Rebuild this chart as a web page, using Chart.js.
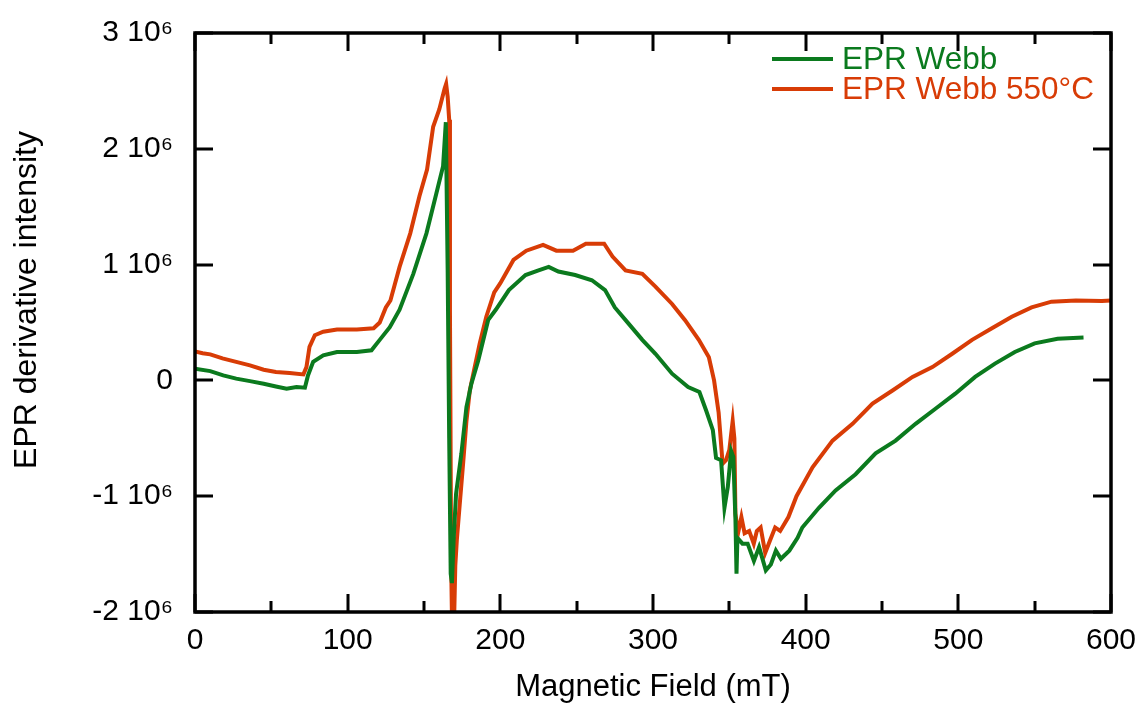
<!DOCTYPE html>
<html>
<head>
<meta charset="utf-8">
<script src="https://cdn.jsdelivr.net/npm/chart.js@4.4.1/dist/chart.umd.min.js"></script>
<style>
  html, body { margin: 0; padding: 0; background: #ffffff; }
  #wrap { width: 1142px; height: 706px; }
</style>
</head>
<body>
<div id="wrap"><canvas id="c" width="1142" height="706"></canvas></div>
<script>
// ---- Data (intensity in units of 10^6) ----
const seriesNames = ["EPR Webb", "EPR Webb 550°C"];
const xTitle = "Magnetic Field (mT)";
const yTitle = "EPR derivative intensity";

const webbField = [0, 10, 18.5, 27, 36, 45, 53, 60, 66.5, 72, 74, 77.4, 84, 93, 106, 115.6, 121, 127.6, 134, 143, 151.6, 158, 162.5, 164.3, 165.5, 166.5, 167.5, 168.3, 169.5, 171, 174.5, 177.8, 181, 185.5, 192, 197, 205.6, 216.5, 225, 231.7, 238, 249, 260, 268.6, 275, 284, 293, 301.6, 312.5, 323, 330.4, 334.8, 339.2, 341.3, 344.6, 346.8, 349, 351.2, 352.6, 354, 354.7, 355.3, 358.6, 362, 366.1, 369.5, 373.9, 377.2, 380.5, 383.8, 389.3, 394.7, 397.8, 408.7, 419.6, 432.7, 445.8, 458.9, 472, 485, 498, 511, 524, 537, 550, 565, 582];
const webbValues = [0.10, 0.08, 0.043, 0.015, -0.006, -0.029, -0.052, -0.072, -0.058, -0.063, 0.043, 0.16, 0.216, 0.245, 0.245, 0.26, 0.35, 0.46, 0.61, 0.92, 1.27, 1.61, 1.85, 2.23, 0.95, -0.5, -1.67, -1.75, -1.35, -0.98, -0.63, -0.23, -0.03, 0.17, 0.52, 0.61, 0.78, 0.91, 0.95, 0.98, 0.94, 0.91, 0.865, 0.78, 0.63, 0.49, 0.35, 0.23, 0.058, -0.058, -0.10, -0.26, -0.43, -0.67, -0.69, -1.10, -0.92, -0.61, -0.66, -1.2, -1.67, -1.36, -1.41, -1.41, -1.56, -1.44, -1.64, -1.59, -1.47, -1.54, -1.47, -1.36, -1.27, -1.10, -0.95, -0.81, -0.63, -0.52, -0.375, -0.245, -0.115, 0.03, 0.145, 0.245, 0.32, 0.36, 0.37];

const webb550Field = [0, 5, 10, 18, 27, 36, 45, 53, 62, 71, 73, 75, 78.5, 84, 93, 106, 117, 121, 125, 128, 134, 141, 147, 152, 156, 160, 163.5, 164.5, 165.5, 166.5, 167, 167.8, 168.5, 169.5, 170.5, 171.5, 173.4, 175.6, 177.8, 180, 183.2, 186.5, 190.8, 196, 200, 208.6, 217, 228, 236.7, 247.6, 256, 268, 273.5, 282, 293, 301.6, 312.5, 321, 330, 336.6, 340, 343, 345.6, 347.8, 350, 352.2, 353.3, 354, 355.7, 357.9, 360, 363, 366, 368, 370.5, 373.5, 376.7, 380, 383.3, 388.7, 394, 404.5, 417.6, 430.7, 443.8, 456.9, 470, 483, 496, 509, 522, 535, 548, 561, 577, 594, 600];
const webb550Values = [0.25, 0.235, 0.225, 0.19, 0.16, 0.13, 0.092, 0.072, 0.063, 0.052, 0.115, 0.29, 0.39, 0.42, 0.44, 0.44, 0.45, 0.50, 0.63, 0.69, 0.98, 1.27, 1.59, 1.82, 2.19, 2.34, 2.52, 2.56, 2.45, 2.25, 0.6, -1.6, -2.2, -2.2, -1.6, -1.38, -1.07, -0.72, -0.35, -0.087, 0.115, 0.32, 0.55, 0.76, 0.84, 1.04, 1.12, 1.17, 1.12, 1.12, 1.18, 1.18, 1.07, 0.95, 0.92, 0.81, 0.66, 0.52, 0.35, 0.20, 0.0, -0.28, -0.72, -0.69, -0.6, -0.35, -0.5, -1.15, -1.32, -1.18, -1.32, -1.30, -1.41, -1.3, -1.27, -1.49, -1.38, -1.27, -1.30, -1.18, -1.0, -0.75, -0.52, -0.375, -0.20, -0.087, 0.03, 0.115, 0.23, 0.35, 0.45, 0.55, 0.63, 0.68, 0.69, 0.686, 0.69];

const xTickValues = [0, 100, 200, 300, 400, 500, 600];
const yTickValues = [-2, -1, 0, 1, 2, 3];

const GREEN = '#0b7a1e';
const RED = '#d83c06';
const FONT = "'Liberation Sans', Helvetica, Arial, sans-serif";

function toPoints(xs, ys) { return xs.map((x, i) => ({ x: x, y: ys[i] })); }

// Frame, inward ticks, y title and legend
const framePlugin = {
  id: 'frame',
  afterDatasetsDraw(chart) {
    const { ctx, chartArea: a, scales } = chart;
    const xs = scales.x, ys = scales.y;
    ctx.save();
    ctx.strokeStyle = '#000';
    ctx.lineWidth = 3;
    ctx.lineCap = 'butt';
    ctx.beginPath();
    for (let v = 0; v <= 600; v += 50) {
      const px = Math.round(xs.getPixelForValue(v));
      const len = (v % 100 === 0) ? 18 : 11;
      ctx.moveTo(px, a.bottom); ctx.lineTo(px, a.bottom - len);
      ctx.moveTo(px, a.top); ctx.lineTo(px, a.top + len);
    }
    yTickValues.forEach(v => {
      const py = Math.round(ys.getPixelForValue(v));
      ctx.moveTo(a.left, py); ctx.lineTo(a.left + 18, py);
      ctx.moveTo(a.right, py); ctx.lineTo(a.right - 18, py);
    });
    ctx.stroke();
    ctx.lineWidth = 3.5;
    ctx.strokeRect(a.left, a.top, a.right - a.left, a.bottom - a.top);

    // y-axis title
    ctx.fillStyle = '#000';
    ctx.font = '32px ' + FONT;
    ctx.textAlign = 'center';
    ctx.textBaseline = 'middle';
    ctx.translate(27, 300);
    ctx.rotate(-Math.PI / 2);
    ctx.fillText(yTitle, 0, 0);
    ctx.setTransform(1, 0, 0, 1, 0, 0);

    // legend
    const lx0 = a.right - 339, lx1 = a.right - 278, tx = a.right - 269;
    const rows = [{ y: a.top + 26, c: GREEN, t: seriesNames[0] }, { y: a.top + 56, c: RED, t: seriesNames[1] }];
    ctx.font = '31.5px ' + FONT;
    ctx.textBaseline = 'middle';
    ctx.textAlign = 'left';
    rows.forEach(r => {
      ctx.strokeStyle = r.c;
      ctx.lineWidth = 4;
      ctx.beginPath(); ctx.moveTo(lx0, r.y); ctx.lineTo(lx1, r.y); ctx.stroke();
      ctx.fillStyle = r.c;
      ctx.fillText(r.t, tx, r.y + 1);
    });
    ctx.restore();
  }
};

new Chart(document.getElementById('c'), {
  type: 'line',
  data: {
    datasets: [
      { label: seriesNames[0], data: toPoints(webbField, webbValues), borderColor: GREEN, backgroundColor: GREEN, borderWidth: 4, pointRadius: 0, tension: 0, fill: false },
      { label: seriesNames[1], data: toPoints(webb550Field, webb550Values), borderColor: RED, backgroundColor: RED, borderWidth: 4, pointRadius: 0, tension: 0, fill: false }
    ]
  },
  options: {
    responsive: false,
    animation: false,
    devicePixelRatio: 1,
    layout: { padding: { top: 33, right: 31, left: 0, bottom: 0 } },
    plugins: { legend: { display: false }, tooltip: { enabled: false } },
    scales: {
      x: {
        type: 'linear', min: 0, max: 600,
        afterFit: s => { s.height = 94; s.paddingLeft = 0; s.paddingRight = 0; },
        afterBuildTicks: s => { s.ticks = xTickValues.map(v => ({ value: v })); },
        grid: { display: false, drawTicks: false },
        border: { display: false },
        ticks: { color: '#000', font: { family: FONT, size: 30 }, padding: 11, maxRotation: 0, autoSkip: false },
        title: { display: true, text: xTitle, color: '#000', font: { family: FONT, size: 31 }, padding: { top: 0, bottom: 0 } }
      },
      y: {
        type: 'linear', min: -2, max: 3,
        afterFit: s => { s.width = 195; s.paddingTop = 0; s.paddingBottom = 0; },
        afterBuildTicks: s => { s.ticks = yTickValues.map(v => ({ value: v })); },
        grid: { display: false, drawTicks: false },
        border: { display: false },
        ticks: { color: '#000', font: { family: FONT, size: 30 }, padding: 22, autoSkip: false,
          callback: v => (v === 0 ? '0' : v + ' 10\u2076') },
        title: { display: false, text: yTitle }
      }
    }
  },
  plugins: [framePlugin]
});
</script>
</body>
</html>
